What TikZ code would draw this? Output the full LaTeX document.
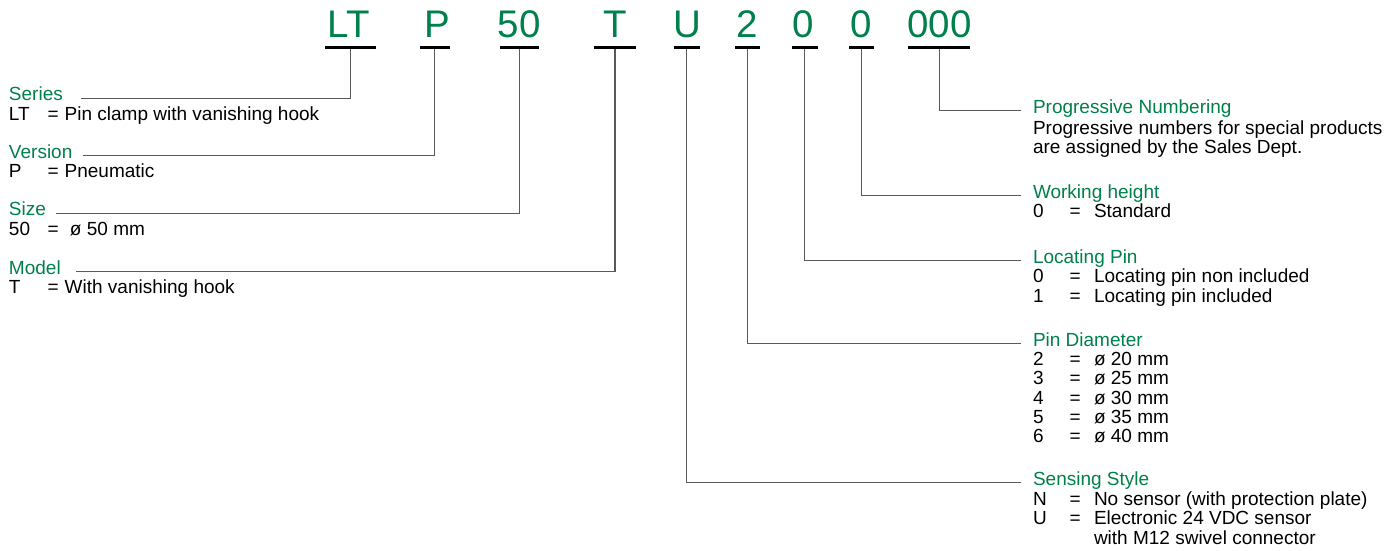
\documentclass[tikz,border=0pt]{standalone}
\usepackage{fontspec}
\setmainfont{Liberation Sans}
\usepackage{tikz}

\definecolor{codegreen}{RGB}{0,128,75}

\tikzset{
	code/.style={anchor=base, inner sep=0, outer sep=0, text=codegreen, font=\fontsize{38.5}{40}\selectfont},
	bar/.style={fill=black, inner sep=0, outer sep=0, minimum height=2.3pt},
	title/.style={anchor=base west, inner sep=0, outer sep=0, text=codegreen, font=\fontsize{19}{19.4}\selectfont},
	desc/.style={anchor=base west, inner sep=0, outer sep=0, font=\fontsize{19}{19.4}\selectfont},
	link/.style={draw=black!65, line width=1.1pt},
}

\begin{document}
\begin{tikzpicture}[x=1pt, y=-1pt]
	\useasboundingbox (0,0) rectangle (1400,550);
	
	% order code
	\node[code] (LT) at (348.5,37.3) {LT};
	\node[code] (P) at (437,37.3) {P};
	\node[code] (50) at (519,37.3) {50};
	\node[code] (T) at (615,37.3) {T};
	\node[code] (U) at (687,37.3) {U};
	\node[code] (2) at (747,37.3) {2};
	\node[code] (0a) at (803.5,37.3) {0};
	\node[code] (0b) at (861.5,37.3) {0};
	\node[code] (000) at (939.5,37.3) {000};
	
	\node[bar, minimum width=51pt] (LTbar) at (350.5,47.5) {};
	\node[bar, minimum width=30pt] (Pbar) at (434.8,47.5) {};
	\node[bar, minimum width=39pt] (50bar) at (519.2,47.5) {};
	\node[bar, minimum width=41.6pt] (Tbar) at (615,47.5) {};
	\node[bar, minimum width=25.6pt] (Ubar) at (686.8,47.5) {};
	\node[bar, minimum width=25.3pt] (2bar) at (747.2,47.5) {};
	\node[bar, minimum width=26pt] (0abar) at (804.5,47.5) {};
	\node[bar, minimum width=24.4pt] (0bbar) at (861.5,47.5) {};
	\node[bar, minimum width=61.7pt] (000bar) at (939.2,47.5) {};
	
	% left side
	\node[title] (series) at (9,100.7) {Series};
	\node[desc] (seriesdesc) at ([yshift=-19.4pt]series.base west)
		{\begin{tabular}[t]{@{}p{38.7pt}@{}p{17pt}@{}l@{}}
			LT & = & Pin clamp with vanishing hook
		\end{tabular}};
	\node[title] (version) at (9,158.5) {Version};
	\node[desc] (versiondesc) at ([yshift=-19.4pt]version.base west)
		{\begin{tabular}[t]{@{}p{38.7pt}@{}p{17pt}@{}l@{}}
			P & = & Pneumatic
		\end{tabular}};
	\node[title] (size) at (9,215.7) {Size};
	\node[desc] (sizedesc) at ([yshift=-19.4pt]size.base west)
		{\begin{tabular}[t]{@{}p{38.7pt}@{}p{17pt}@{}l@{}}
			50 & = & \ ø 50 mm
		\end{tabular}};
	\node[title] (model) at (9,274) {Model};
	\node[desc] (modeldesc) at ([yshift=-19.4pt]model.base west)
		{\begin{tabular}[t]{@{}p{38.7pt}@{}p{17pt}@{}l@{}}
			T & = & With vanishing hook
		\end{tabular}};
	
	% right side
	\node[title] (progressive) at (1033,113.5) {Progressive Numbering};
	\node[desc] (progressivedesc) at ([yshift=-20.5pt]progressive.base west)
		{\begin{tabular}[t]{@{}l@{}}
			Progressive numbers for special products\\
			are assigned by the Sales Dept.
		\end{tabular}};
	\node[title] (height) at (1033,198.5) {Working height};
	\node[desc] (heightdesc) at ([yshift=-19.4pt]height.base west)
		{\begin{tabular}[t]{@{}p{36.7pt}@{}p{24.3pt}@{}l@{}}
			0 & = & Standard
		\end{tabular}};
	\node[title] (pin) at (1033,263.3) {Locating Pin};
	\node[desc] (pindesc) at ([yshift=-19.6pt]pin.base west)
		{\begin{tabular}[t]{@{}p{36.7pt}@{}p{24.3pt}@{}l@{}}
			0 & = & Locating pin non included\\
			1 & = & Locating pin included
		\end{tabular}};
	\node[title] (diameter) at (1033,346) {Pin Diameter};
	\node[desc] (diameterdesc) at ([yshift=-19.2pt]diameter.base west)
		{\begin{tabular}[t]{@{}p{36.7pt}@{}p{24.3pt}@{}l@{}}
			2 & = & ø 20 mm\\
			3 & = & ø 25 mm\\
			4 & = & ø 30 mm\\
			5 & = & ø 35 mm\\
			6 & = & ø 40 mm
		\end{tabular}};
	\node[title] (sensing) at (1033,485.5) {Sensing Style};
	\node[desc] (sensingdesc) at ([yshift=-19.6pt]sensing.base west)
		{\begin{tabular}[t]{@{}p{36.7pt}@{}p{24.3pt}@{}l@{}}
			N & = & No sensor (with protection plate)\\
			U & = & Electronic 24 VDC sensor\\
			  &   & with M12 swivel connector
		\end{tabular}};
	
	% links
	\path[link] (LTbar.south) |- ([xshift=18pt]series.mid east);
	\path[link] (Pbar.south) |- ([xshift=11pt]version.mid east);
	\path[link] (50bar.south) |- ([xshift=10pt]size.mid east);
	\path[link] (Tbar.south) |- ([xshift=15pt]model.mid east);
	\path[link] (Ubar.south) |- ([xshift=-12pt]sensing.mid west);
	\path[link] (2bar.south) |- ([xshift=-12pt]diameter.mid west);
	\path[link] (0abar.south) |- ([xshift=-12pt]pin.mid west);
	\path[link] (0bbar.south) |- ([xshift=-12pt]height.mid west);
	\path[link] (000bar.south) |- ([xshift=-12pt]progressive.mid west);
	
\end{tikzpicture}
\end{document}
